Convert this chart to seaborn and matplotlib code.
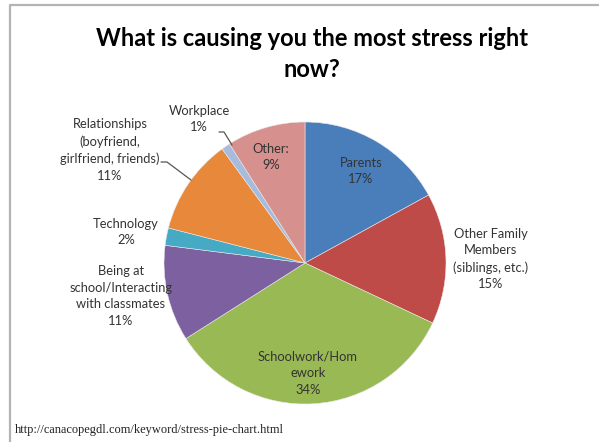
import matplotlib
matplotlib.use("Agg")
import matplotlib.pyplot as plt
import seaborn as sns

# Survey answers, clockwise from 12 o'clock
categories = [
    "Parents",
    "Other Family\nMembers\n(siblings, etc.)",
    "Schoolwork/Hom\nework",
    "Being at\nschool/Interacting\nwith classmates",
    "Technology",
    "Relationships\n(boyfriend,\ngirlfriend, friends)",
    "Workplace",
    "Other:",
]
shares = [17, 15, 34, 11, 2, 11, 1, 9]
title = "What is causing you the most stress right\nnow?"
source = "http://canacopegdl.com/keyword/stress-pie-chart.html"

slice_colors = sns.color_palette([
    "#4A7EBB", "#BE4B48", "#98B954", "#7D60A0",
    "#46AAC5", "#E8883A", "#A7BCDC", "#D6918F",
])

sns.set_theme(style="white")
plt.rcParams["font.family"] = ["Lato", "DejaVu Sans"]

W, H = 599, 442
fig = plt.figure(figsize=(W / 100, H / 100), dpi=100)
ax = fig.add_axes([0, 0, 1, 1])
ax.set_xlim(0, W)
ax.set_ylim(0, H)
ax.set_aspect("equal")
ax.axis("off")


def py(y):
    """Pixel row (from top) to axes y."""
    return H - y


# chart frame
ax.plot([10, 10, W], [0, py(5), py(5)], color="#b4b4b4", lw=1.6,
        solid_capstyle="butt")

# the pie
ax.pie(shares, colors=slice_colors, startangle=90, counterclock=False,
       center=(305, py(263)), radius=141,
       wedgeprops=dict(linewidth=0.4, edgecolor="#e8e8e8"))
ax.set_xlim(0, W)
ax.set_ylim(0, H)

ax.text(312, py(54), title, ha="center", va="center", fontsize=17,
        fontweight="bold", color="black", linespacing=1.4)

# data labels: (x, y) centre of each label block in pixels
label_pos = [
    (361, 171),
    (491, 259),
    (308, 373),
    (121, 296),
    (126, 232),
    (110, 150),
    (199, 119),
    (271, 157),
]
for name, val, (x, y) in zip(categories, shares, label_pos):
    ax.text(x, py(y), f"{name}\n{val}%", ha="center", va="center",
            fontsize=9.3, color="#333333", linespacing=1.45)

# leader lines for the outside labels
ax.plot([219, 224, 232], [py(132), py(132), py(145)], color="#555555", lw=0.9)
ax.plot([161, 167, 191], [py(162), py(162), py(180)], color="#555555", lw=0.9)

ax.text(15, py(430), source, ha="left", va="center", fontsize=8.9,
        family=["Liberation Serif"], color="#222222")

fig.savefig("out.png", dpi=100)
